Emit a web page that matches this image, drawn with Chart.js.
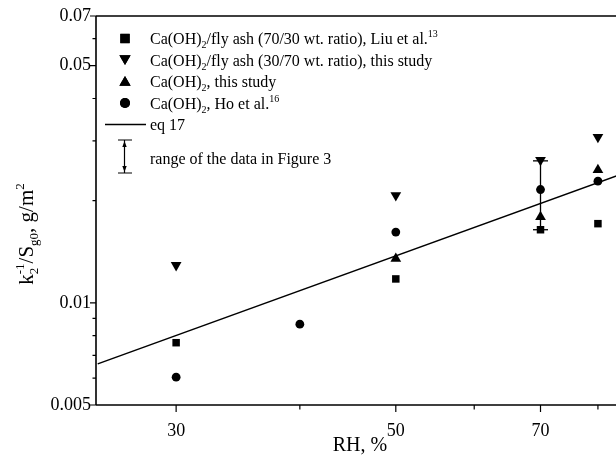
<!DOCTYPE html>
<html>
<head>
<meta charset="utf-8">
<script src="https://cdn.jsdelivr.net/npm/chart.js@4.4.1/dist/chart.umd.min.js"></script>
<style>
html,body{margin:0;padding:0;background:#fff;}
#wrap{width:616px;height:458px;overflow:hidden;position:relative;}
canvas{display:block;}
</style>
</head>
<body>
<div id="wrap"><canvas id="c" width="640" height="458"></canvas></div>
<script>
// ---- data ----
const rhSquare   = [30, 50, 70, 80];
const valSquare  = [0.00763, 0.01176, 0.01642, 0.01711];   // Ca(OH)2/fly ash (70/30), Liu et al.
const rhTDown    = [30, 50, 70, 80];
const valTDown   = [0.01291, 0.02074, 0.02633, 0.0308];    // Ca(OH)2/fly ash (30/70), this study
const rhTUp      = [50, 70, 80];
const valTUp     = [0.01349, 0.01792, 0.02464];            // Ca(OH)2, this study
const rhCircle   = [30, 40, 50, 70, 80];
const valCircle  = [0.00604, 0.00865, 0.01616, 0.02157, 0.02283]; // Ca(OH)2, Ho et al.
const rhEq       = [25, 85];
const valEq      = [0.00661, 0.02408];                     // eq 17
const rhRange    = [70, 70];
const valRange   = [0.01642, 0.0262];                      // range of data in Figure 3

const xTicks = [30, 40, 50, 60, 70, 80];
const xLabels = [30, 50, 70];
const yTicks = [0.005, 0.006, 0.007, 0.008, 0.009, 0.01, 0.02, 0.03, 0.04, 0.05, 0.06, 0.07];
const yLabels = ['0.005', '0.01', '0.05', '0.07'];

const pts = (xs, ys) => xs.map((x, i) => ({x: x, y: ys[i]}));
const isLabel = (v, list) => list.some(t => Math.abs(Number(t) - v) < 1e-9);

Chart.defaults.font.family = '"Liberation Serif", "Times New Roman", serif';
Chart.defaults.color = '#000';

const FONT = '"Liberation Serif", "Times New Roman", serif';

function drawRich(ctx, parts, x, y, size, measureOnly) {
  let cx = x;
  for (const p of parts) {
    if (p.k === 'n') {
      ctx.font = size + 'px ' + FONT;
      if (!measureOnly) ctx.fillText(p.t, cx, y);
      cx += ctx.measureText(p.t).width;
    } else if (p.k === 'sub') {
      const s = Math.round(size * 0.62);
      ctx.font = s + 'px ' + FONT;
      if (!measureOnly) ctx.fillText(p.t, cx, y + size * 0.25);
      cx += ctx.measureText(p.t).width;
    } else if (p.k === 'sup') {
      const s = Math.round(size * 0.62);
      ctx.font = s + 'px ' + FONT;
      if (!measureOnly) ctx.fillText(p.t, cx, y - size * 0.42);
      cx += ctx.measureText(p.t).width;
    } else if (p.k === 'subsup') {
      const s = Math.round(size * 0.62);
      ctx.font = s + 'px ' + FONT;
      if (!measureOnly) {
        ctx.fillText(p.b, cx, y + size * 0.25);
        ctx.fillText(p.t, cx, y - size * 0.42);
      }
      cx += Math.max(ctx.measureText(p.b).width, ctx.measureText(p.t).width);
    }
  }
  return cx - x;
}

const decor = {
  id: 'decor',
  afterDraw(chart) {
    const ctx = chart.ctx;
    const a = chart.chartArea;
    const xs = chart.scales.x, ys = chart.scales.y;
    ctx.save();
    ctx.strokeStyle = '#000';
    ctx.fillStyle = '#000';
    // frame
    ctx.lineWidth = 1.6;
    ctx.beginPath();
    ctx.moveTo(a.left, a.top); ctx.lineTo(a.left, a.bottom);
    ctx.moveTo(a.left, a.bottom); ctx.lineTo(a.right, a.bottom);
    ctx.moveTo(a.left, a.top); ctx.lineTo(a.right, a.top);
    ctx.stroke();
    // ticks
    ctx.lineWidth = 1.2;
    ctx.beginPath();
    for (const v of yTicks) {
      const py = ys.getPixelForValue(v);
      const len = isLabel(v, yLabels) ? 6 : 3.5;
      ctx.moveTo(a.left, py); ctx.lineTo(a.left - len, py);
    }
    for (const v of xTicks) {
      const px = xs.getPixelForValue(v);
      const len = isLabel(v, xLabels) ? 7 : 4.5;
      ctx.moveTo(px, a.bottom); ctx.lineTo(px, a.bottom + len);
    }
    ctx.stroke();

    // legend
    const mx = 125, tx = 150, fs = 16;
    const rows = [
      {y: 38.5, style: 'rect', r: 6.6, rot: 0,
       parts: [{k:'n',t:'Ca(OH)'},{k:'sub',t:'2'},{k:'n',t:'/fly ash (70/30 wt. ratio), Liu et al.'},{k:'sup',t:'13'}]},
      {y: 60, style: 'triangle', r: 6.5, rot: 180,
       parts: [{k:'n',t:'Ca(OH)'},{k:'sub',t:'2'},{k:'n',t:'/fly ash (30/70 wt. ratio), this study'}]},
      {y: 81, style: 'triangle', r: 6.5, rot: 0,
       parts: [{k:'n',t:'Ca(OH)'},{k:'sub',t:'2'},{k:'n',t:', this study'}]},
      {y: 103, style: 'circle', r: 5, rot: 0,
       parts: [{k:'n',t:'Ca(OH)'},{k:'sub',t:'2'},{k:'n',t:', Ho et al.'},{k:'sup',t:'16'}]},
    ];
    ctx.textBaseline = 'alphabetic';
    ctx.textAlign = 'left';
    for (const r of rows) {
      const off = r.style === 'triangle' ? (r.rot ? -1.5 : 1.5) : 0;
      Chart.helpers.drawPoint(ctx, {pointStyle: r.style, radius: r.r, rotation: r.rot, borderWidth: 0}, mx, r.y + off);
      ctx.fill();
      drawRich(ctx, r.parts, tx, r.y + 5.5, fs);
    }
    // eq 17 line
    ctx.lineWidth = 1.5;
    ctx.beginPath(); ctx.moveTo(105, 124.5); ctx.lineTo(146, 124.5); ctx.stroke();
    drawRich(ctx, [{k:'n',t:'eq 17'}], tx, 124.5 + 5.5, fs);
    // range symbol
    ctx.lineWidth = 1.2;
    ctx.beginPath();
    ctx.moveTo(124.5, 140); ctx.lineTo(124.5, 173);
    ctx.moveTo(118, 140); ctx.lineTo(132, 140);
    ctx.moveTo(118, 173); ctx.lineTo(132, 173);
    ctx.stroke();
    ctx.beginPath();
    ctx.moveTo(124.5, 141); ctx.lineTo(122.3, 147); ctx.lineTo(126.7, 147); ctx.closePath();
    ctx.moveTo(124.5, 172); ctx.lineTo(122.3, 166); ctx.lineTo(126.7, 166); ctx.closePath();
    ctx.fill();
    drawRich(ctx, [{k:'n',t:'range of the data in Figure 3'}], tx, 158 + 5.5, fs);

    // y-axis title
    const tparts = [{k:'n',t:'k'},{k:'subsup',b:'2',t:'-1'},{k:'n',t:'/S'},{k:'sub',t:'g0'},{k:'n',t:', g/m'},{k:'sup',t:'2'}];
    const tfs = 21;
    ctx.save();
    ctx.translate(33, 234);
    ctx.rotate(-Math.PI / 2);
    const w = drawRich(ctx, tparts, 0, 0, tfs, true);
    drawRich(ctx, tparts, -w / 2, 0, tfs);
    ctx.restore();

    ctx.restore();
  }
};

new Chart(document.getElementById('c'), {
  type: 'scatter',
  data: {
    datasets: [
      {label: 'sq', data: pts(rhSquare, valSquare), pointStyle: 'rect', pointRadius: 5.3,
       backgroundColor: '#000', borderWidth: 0},
      {label: 'tdown', data: pts(rhTDown, valTDown), pointStyle: 'triangle', rotation: 180, pointRadius: 6.2,
       backgroundColor: '#000', borderWidth: 0},
      {label: 'tup', data: pts(rhTUp, valTUp), pointStyle: 'triangle', pointRadius: 6.2,
       backgroundColor: '#000', borderWidth: 0},
      {label: 'circ', data: pts(rhCircle, valCircle), pointStyle: 'circle', pointRadius: 4.4,
       backgroundColor: '#000', borderWidth: 0},
      {label: 'range', data: pts(rhRange, valRange), showLine: true, pointStyle: 'line', pointRadius: 7.5,
       borderColor: '#000', borderWidth: 1.3, pointBorderWidth: 1.3, pointBorderColor: '#000', backgroundColor: '#000'},
      {label: 'eq17', data: pts(rhEq, valEq), showLine: true, pointRadius: 0,
       borderColor: '#000', borderWidth: 1.5},
    ]
  },
  options: {
    responsive: false,
    animation: false,
    devicePixelRatio: 1,
    events: [],
    layout: {padding: {top: 16, right: 16, left: 0, bottom: 0}},
    plugins: {legend: {display: false}, tooltip: {enabled: false}},
    scales: {
      x: {
        type: 'logarithmic', min: 24.9, max: 85,
        afterBuildTicks: s => { s.ticks = xTicks.map(v => ({value: v})); },
        afterFit: s => { s.height = 53; },
        ticks: {
          autoSkip: false, maxRotation: 0, padding: 15,
          font: {size: 18, family: FONT}, color: '#000',
          callback: v => isLabel(v, xLabels) ? String(v) : ''
        },
        grid: {display: false, drawTicks: false},
        border: {display: false},
        title: {display: true, text: 'RH, %', font: {size: 20, family: FONT}, color: '#000', padding: {top: 0, bottom: 0}}
      },
      y: {
        type: 'logarithmic', min: 0.005, max: 0.07,
        afterBuildTicks: s => { s.ticks = yTicks.map(v => ({value: v})); },
        afterFit: s => { s.width = 96; },
        ticks: {
          autoSkip: false, padding: 5,
          font: {size: 18, family: FONT}, color: '#000',
          callback: v => { const m = yLabels.find(t => Math.abs(Number(t) - v) < 1e-9); return m ? m : ''; }
        },
        grid: {display: false, drawTicks: false},
        border: {display: false}
      }
    }
  },
  plugins: [decor]
});
</script>
</body>
</html>
